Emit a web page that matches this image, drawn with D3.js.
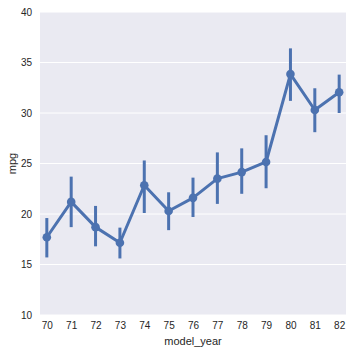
<!DOCTYPE html>
<html><head><meta charset="utf-8">
<script src="https://cdn.jsdelivr.net/npm/d3@7"></script>
<style>
html,body{margin:0;padding:0;background:#fff;}
text{font-family:"Liberation Sans",Arial,sans-serif;fill:#262626;}
</style></head>
<body>
<svg id="c" width="353" height="353"></svg>
<script>
const years = ["70","71","72","73","74","75","76","77","78","79","80","81","82"];
const mpgMean = [17.7, 21.2, 18.7, 17.15, 22.85, 20.3, 21.6, 23.5, 24.15, 25.15, 33.85, 30.3, 32.05];
const ciLow  = [15.7, 18.7, 16.8, 15.6, 20.1, 18.4, 19.7, 21.0, 22.0, 22.55, 31.2, 28.1, 30.0];
const ciHigh = [19.6, 23.7, 20.8, 18.65, 25.3, 22.15, 23.6, 26.1, 26.5, 27.8, 36.4, 32.45, 33.8];
const yTicks = [10, 15, 20, 25, 30, 35, 40];

const svg = d3.select("#c");
const L = 40, R = 346, T = 12, B = 315;
const x = d3.scaleLinear().domain([-0.28, years.length - 1 + 0.28]).range([L, R]);
const y = d3.scaleLinear().domain([10, 40]).range([B, T]);
const color = "#4C72B0";

svg.append("rect").attr("x", L).attr("y", T).attr("width", R - L).attr("height", B - T).attr("fill", "#EAEAF2");

svg.append("g").selectAll("line").data(yTicks).join("line")
  .attr("x1", L).attr("x2", R).attr("y1", d => y(d)).attr("y2", d => y(d))
  .attr("stroke", "#fff").attr("stroke-width", 1);

const yAxis = svg.append("g").attr("transform", `translate(${L},0)`)
  .call(d3.axisLeft(y).tickValues(yTicks).tickSize(0).tickPadding(8));
yAxis.select(".domain").remove();
yAxis.selectAll("text").style("font-size", "10px").attr("fill", "#262626");

const xAxis = svg.append("g").attr("transform", `translate(0,${B})`)
  .call(d3.axisBottom(x).tickValues(d3.range(years.length)).tickFormat(i => years[i]).tickSize(0).tickPadding(7));
xAxis.select(".domain").remove();
xAxis.selectAll("text").style("font-size", "10px").attr("fill", "#262626");

svg.append("text").attr("x", (L + R) / 2).attr("y", 345).attr("text-anchor", "middle")
  .style("font-size", "11px").text("model_year");
svg.append("text").attr("transform", `translate(16,${(T + B) / 2}) rotate(-90)`).attr("text-anchor", "middle")
  .style("font-size", "11px").text("mpg");

const g = svg.append("g");
g.selectAll("line.ci").data(years).join("line").attr("class", "ci")
  .attr("x1", (d, i) => x(i)).attr("x2", (d, i) => x(i))
  .attr("y1", (d, i) => y(ciLow[i])).attr("y2", (d, i) => y(ciHigh[i]))
  .attr("stroke", color).attr("stroke-width", 3);

const line = d3.line().x((d, i) => x(i)).y(d => y(d));
g.append("path").attr("d", line(mpgMean)).attr("fill", "none")
  .attr("stroke", color).attr("stroke-width", 3).attr("stroke-linejoin", "round");

g.selectAll("circle").data(mpgMean).join("circle")
  .attr("cx", (d, i) => x(i)).attr("cy", d => y(d)).attr("r", 4.3).attr("fill", color);
</script>
</body></html>
